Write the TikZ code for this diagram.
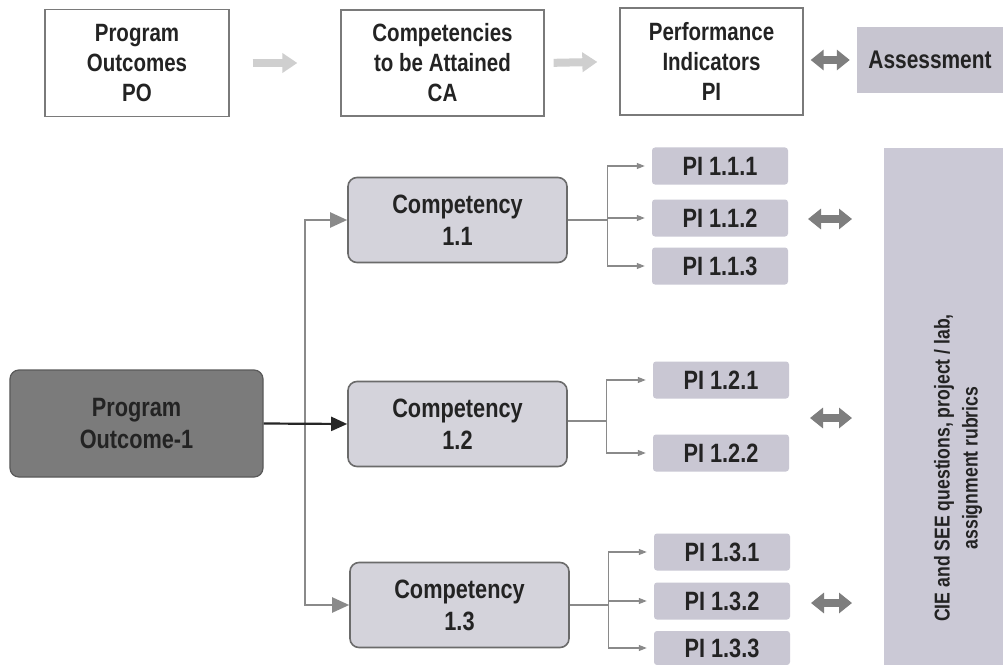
\documentclass[tikz,border=0pt]{standalone}
\usepackage{fontspec}
\setmainfont{Liberation Sans}[FakeStretch=0.82]
\usetikzlibrary{arrows.meta,calc}
\definecolor{topborder}{HTML}{7A7A7A}
\definecolor{lightarrow}{HTML}{CFCFCF}
\definecolor{darkarrow}{HTML}{7E7E7E}
\definecolor{pofill}{HTML}{7B7B7B}
\definecolor{poborder}{HTML}{5A5A5A}
\definecolor{compfill}{HTML}{D4D3DB}
\definecolor{compborder}{HTML}{6B6B6B}
\definecolor{pifill}{HTML}{C9C7D3}
\definecolor{assessfill}{HTML}{C7C5D0}
\definecolor{tallfill}{HTML}{CBC9D6}
\definecolor{txt}{HTML}{232323}
\definecolor{linegray}{HTML}{8A8A8A}
\tikzset{
  topbox/.style={draw=topborder, line width=1.3bp, fill=white, align=center, inner sep=0pt,
    font=\bfseries\fontsize{25bp}{30bp}\selectfont, text=txt},
  pobox/.style={draw=poborder, line width=1.2bp, fill=pofill, rounded corners=9bp, align=center,
    inner sep=0pt, minimum width=253bp, minimum height=107bp,
    font=\bfseries\fontsize{26.5bp}{32bp}\selectfont, text=txt},
  compbox/.style={draw=compborder, line width=1.6bp, fill=compfill, rounded corners=9bp, align=center,
    inner sep=0pt, minimum width=219bp, minimum height=85bp,
    font=\bfseries\fontsize{26.5bp}{32bp}\selectfont, text=txt},
  pibox/.style={fill=pifill, rounded corners=3bp, inner sep=0pt, minimum width=136bp, minimum height=37bp,
    font=\bfseries\fontsize{26.5bp}{30bp}\selectfont, text=txt},
  lightblock/.style={draw=lightarrow, line width=8bp, -{Triangle[length=15bp,width=19bp]}},
  darkblock/.style={draw=darkarrow, line width=8bp, {Triangle[length=13bp,width=20bp]}-{Triangle[length=13bp,width=20bp]}},
  trunkarrow/.style={draw=linegray, line width=2.2bp, -{Triangle[length=17bp,width=15bp]}},
  mainarrow/.style={draw=black!85, line width=2.2bp, -{Triangle[length=16bp,width=14bp]}},
  piarrow/.style={draw=linegray, line width=1.1bp, -{Triangle[length=8bp,width=6bp]}, shorten >=7bp},
  branch/.style={draw=linegray, line width=1.1bp}
}
\begin{document}
\begin{tikzpicture}[x=1bp,y=-1bp]
\useasboundingbox[fill=white] (0,0) rectangle (1007,665);

% top row
\node[topbox, minimum width=184bp, minimum height=107bp] (po) at (137,63) {Program\\Outcomes\\PO};
\node[topbox, minimum width=203bp, minimum height=106bp] (ca) at (442.5,63) {Competencies\\to be Attained\\CA};
\node[topbox, minimum width=183bp, minimum height=107bp] (pi) at (711.5,61.5) {Performance\\Indicators\\PI};
\node[fill=assessfill, minimum width=146bp, minimum height=66bp, inner sep=0pt,
      font=\bfseries\fontsize{25.5bp}{30bp}\selectfont, text=txt] (as) at (930,60) {Assessment};

\draw[lightblock, shorten <=23bp, shorten >=43bp] (po.east) -- (ca.west);
\draw[lightblock, shorten <=9bp, shorten >=22bp] (ca.east) -- (pi.west);
\draw[darkblock, shorten <=7bp, shorten >=7bp] (pi.east |- as.west) -- (as.west);

% program outcome
\node[pobox] (po1) at (136.5,423.5) {Program\\Outcome-1};

% competencies
\node[compbox] (c11) at (457.5,220) {Competency\\1.1};
\node[compbox] (c12) at (457.5,424) {Competency\\1.2};
\node[compbox] (c13) at (459.5,605) {Competency\\1.3};

\coordinate (trunk) at (305,424);
\draw[trunkarrow] (trunk) |- (c11.west);
\draw[trunkarrow] (trunk) |- (c13.west);
\draw[mainarrow] (po1.east) -- (c12.west);

% PIs
\node[pibox] (p111) at (720,166) {PI 1.1.1};
\node[pibox] (p112) at (720,218) {PI 1.1.2};
\node[pibox] (p113) at (720,266) {PI 1.1.3};
\node[pibox] (p121) at (721,380) {PI 1.2.1};
\node[pibox] (p122) at (721,453) {PI 1.2.2};
\node[pibox] (p131) at (722,552) {PI 1.3.1};
\node[pibox] (p132) at (722,601) {PI 1.3.2};
\node[pibox, minimum height=34bp] (p133) at (722,648) {PI 1.3.3};

\draw[branch] (c11.east) -- ++(40,0) coordinate (b1);
\draw[piarrow] (b1) |- (p111.west);
\draw[piarrow] (b1) |- (p112.west);
\draw[piarrow] (b1) |- (p113.west);

\draw[branch] (c12.east) ++(0,-3) -- ++(39,0) coordinate (b2);
\draw[piarrow] (b2) |- (p121.west);
\draw[piarrow] (b2) |- (p122.west);

\draw[branch] (c13.east) -- ++(39,0) coordinate (b3);
\draw[piarrow] (b3) |- (p131.west);
\draw[piarrow] (b3) |- (p132.west);
\draw[piarrow] (b3) |- (p133.west);

% tall assessment box
\node[fill=tallfill, minimum width=119bp, minimum height=517bp, inner sep=0pt] (tall) at (943.5,406.5) {};
\node[rotate=90, align=center, inner sep=0pt, font=\bfseries\fontsize{21.5bp}{28bp}\selectfont, text=txt]
  (talltext) at (958,468) {CIE and SEE questions, project / lab,\\assignment rubrics};

% double arrows
\coordinate (d1a) at (808,219); \coordinate (d1b) at (852,219);
\coordinate (d2a) at (810,418); \coordinate (d2b) at (852,418);
\coordinate (d3a) at (811,603); \coordinate (d3b) at (852,603);
\draw[darkblock] (d1a) -- (d1b);
\draw[darkblock] (d2a) -- (d2b);
\draw[darkblock] (d3a) -- (d3b);
\end{tikzpicture}
\end{document}
